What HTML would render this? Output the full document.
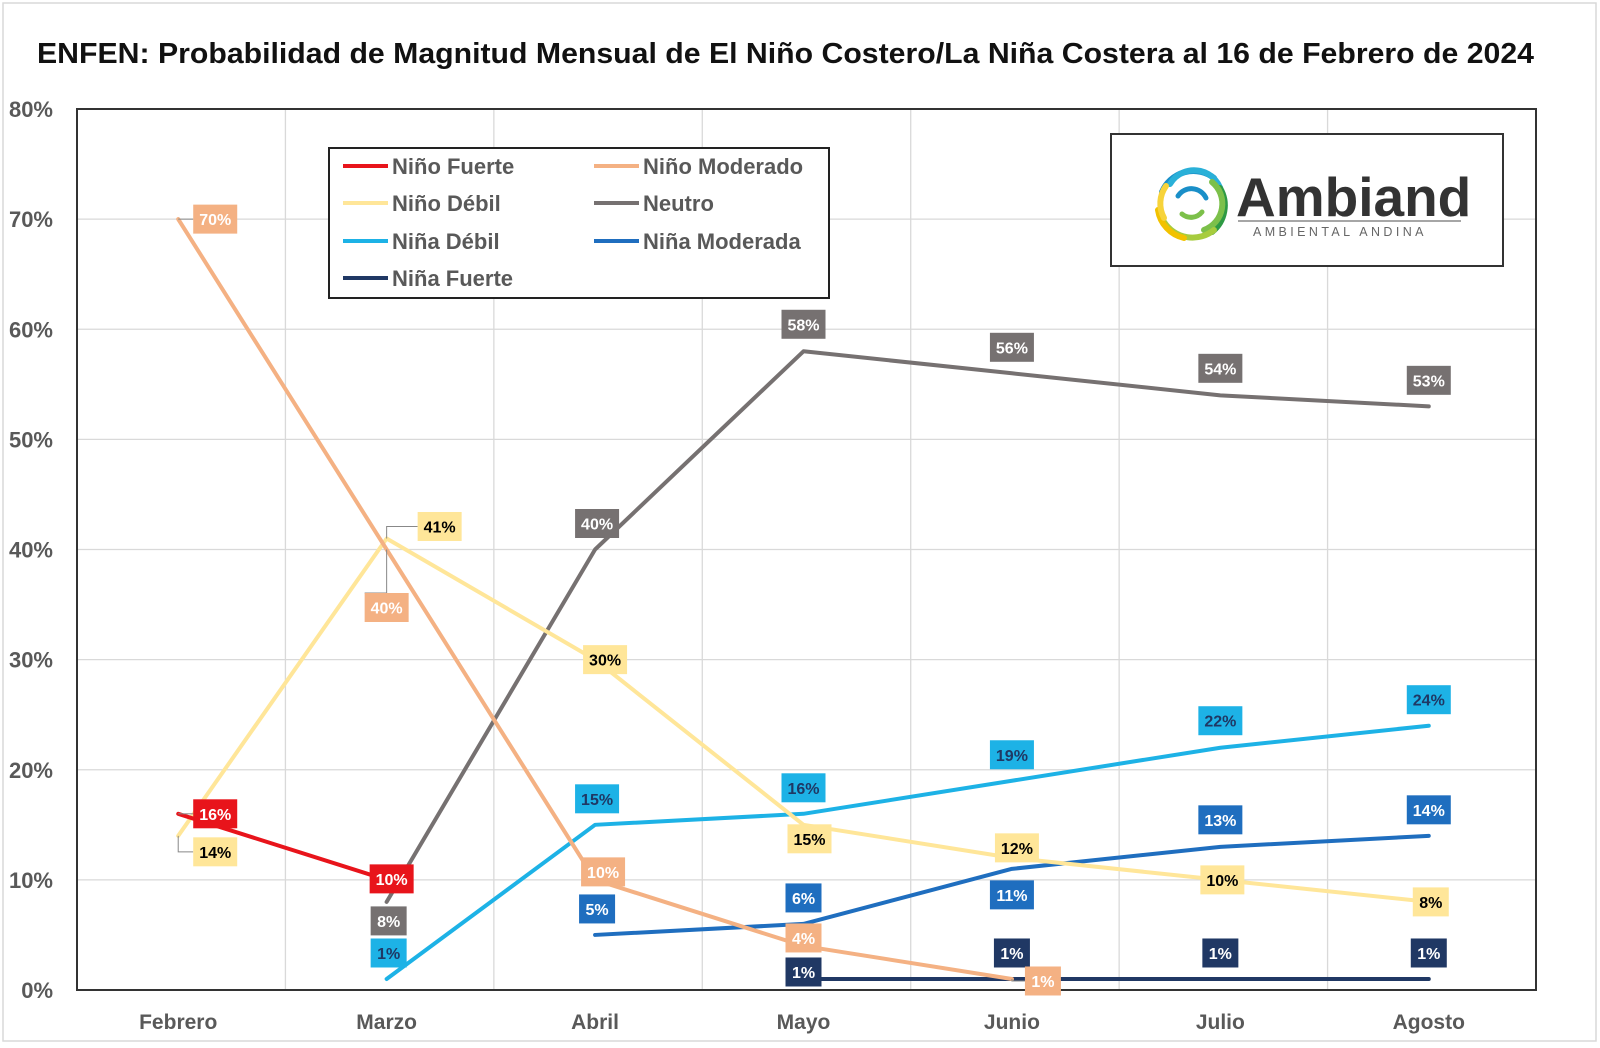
<!DOCTYPE html>
<html><head><meta charset="utf-8">
<style>
html,body{margin:0;padding:0;background:#fff;}
body{width:1600px;height:1043px;overflow:hidden;font-family:"Liberation Sans",sans-serif;}
svg text{font-family:"Liberation Sans",sans-serif;}
</style></head>
<body>
<svg id="chart" width="1600" height="1043" viewBox="0 0 1600 1043" xmlns="http://www.w3.org/2000/svg">
<rect x="3" y="3" width="1593" height="1038" fill="#fff" stroke="#d9d9d9" stroke-width="1.5"/>
<text x="37" y="63" textLength="1497" lengthAdjust="spacingAndGlyphs" font-size="29" font-weight="bold" fill="#111">ENFEN: Probabilidad de Magnitud Mensual de El Niño Costero/La Niña Costera al 16 de Febrero de 2024</text>
<g id="grid"></g>
<g id="yaxis"></g>
<g id="xaxis"></g>
<rect x="77" y="109" width="1459" height="881" fill="none" stroke="#333" stroke-width="2"/>
<g id="series"></g>
<g id="labels"></g>
<g id="legend">
<rect x="329" y="148" width="500" height="150" fill="#fff" stroke="#222" stroke-width="2"/>
</g>
<g>
<rect x="1111" y="134" width="392" height="132" fill="#fff" stroke="#333" stroke-width="2"/>
<g transform="translate(1192,204)" fill="none" stroke-linecap="round" stroke-width="6">
<path d="M-30,-12 A34,34 0 0 1 22,-26" stroke="#1a8fc8"/>
<path d="M-22,-20 A28,28 0 0 1 30,-8" stroke="#2ab0d8"/>
<path d="M28,-16 A34,34 0 0 1 20,28" stroke="#2e9a44"/>
<path d="M20,-22 A28,28 0 0 1 12,26" stroke="#7cc04a"/>
<path d="M22,26 A34,34 0 0 1 -28,18" stroke="#a7cc3e"/>
<path d="M-34,6 A34,34 0 0 0 -8,34" stroke="#f2c200"/>
<path d="M-26,-18 A30,30 0 0 0 -28,14" stroke="#f7d33a"/>
<path d="M-14,-8 A16,16 0 0 1 14,-6" stroke="#1a8fc8" stroke-width="5"/>
<path d="M10,8 A14,14 0 0 1 -10,10" stroke="#7cc04a" stroke-width="5"/>
</g>
<text x="1236" y="216" font-size="55" font-weight="bold" fill="#333">Ambiand</text>
<line x1="1238" y1="221" x2="1461" y2="221" stroke="#888" stroke-width="1.5"/>
<text x="1253" y="236" font-size="12.5" fill="#666" letter-spacing="3.4">AMBIENTAL ANDINA</text>
</g>
</svg>
<script>
const categories = ["Febrero","Marzo","Abril","Mayo","Junio","Julio","Agosto"];
const yTicks = [0,10,20,30,40,50,60,70,80];
const ninoFuerte = [16,10,null,null,null,null,null];
const ninoModerado = [70,40,10,4,1,null,null];
const ninoDebil = [14,41,30,15,12,10,8];
const neutro = [null,8,40,58,56,54,53];
const ninaDebil = [null,1,15,16,19,22,24];
const ninaModerada = [null,null,5,6,11,13,14];
const ninaFuerte = [null,null,null,1,1,1,1];

const NS="http://www.w3.org/2000/svg";
const L=77,R=1536,T=109,B=990;
const band=(R-L)/categories.length;
function x(i){return L+band*(i+0.5)-3;}
function y(v){return B-(v/80)*(B-T);}
function el(tag,attrs,parent){const e=document.createElementNS(NS,tag);for(const k in attrs)e.setAttribute(k,attrs[k]);parent.appendChild(e);return e;}

const grid=document.getElementById('grid'),ya=document.getElementById('yaxis'),xa=document.getElementById('xaxis');
yTicks.forEach(t=>{
  const g=el('line',{x1:L,x2:R,y1:y(t),y2:y(t),stroke:'#d9d9d9','stroke-width':1.3},grid);
  
  
  const tx=el('text',{x:53,y:y(t)+8,'text-anchor':'end','font-size':22,'font-weight':'bold',fill:'#595959'},ya);
  
  
  tx.textContent=t+'%';
});
categories.forEach((c,i)=>{
  if(i>0){const g=el('line',{x1:L+band*i,x2:L+band*i,y1:T,y2:B,stroke:'#d9d9d9','stroke-width':1.3},grid);
  
  }
  const tx=el('text',{x:x(i),y:1029,'text-anchor':'middle','font-size':21,'font-weight':'bold',fill:'#595959'},xa);
  
  
  tx.textContent=c;
});

const series=[
 {name:'Niña Fuerte',data:ninaFuerte,color:'#203864',box:'#203864',txt:'#fff',off:[[0,0],[0,0],[0,0],[0,-7],[0,-26],[0,-26],[0,-26]],key:'nina-fuerte'},
 {name:'Niña Moderada',data:ninaModerada,color:'#1f6ebf',box:'#1f6ebf',txt:'#fff',off:[[0,0],[0,0],[2,-26],[0,-26],[0,26],[0,-27],[0,-26]],key:'nina-moderada'},
 {name:'Niña Débil',data:ninaDebil,color:'#1db2e6',box:'#1db2e6',txt:'#1f3864',off:[[0,0],[2,-26],[2,-26],[0,-26],[0,-26],[0,-27],[0,-26]],key:'nina-debil'},
 {name:'Neutro',data:neutro,color:'#767171',box:'#767171',txt:'#fff',off:[[0,0],[2,19],[2,-26],[0,-27],[0,-26],[0,-27],[0,-26]],key:'neutro'},
 {name:'Niño Débil',data:ninoDebil,color:'#ffe699',box:'#ffe699',txt:'#000',off:[[37,16],[53,-12],[10,0],[6,14],[5,-10],[2,0],[2,0]],key:'nino-debil'},
 {name:'Niño Moderado',data:ninoModerado,color:'#f4b183',box:'#f4b183',txt:'#fff',off:[[37,0],[0,58],[8,-8],[0,-8],[31,2],[0,0],[0,0]],key:'nino-moderado'},
 {name:'Niño Fuerte',data:ninoFuerte,color:'#e8141b',box:'#e8141b',txt:'#fff',off:[[37,0],[5,-1],[0,0],[0,0],[0,0],[0,0],[0,0]],key:'nino-fuerte'}
];
const sg=document.getElementById('series'),lg=document.getElementById('labels');
series.forEach(s=>{
  let d='';s.data.forEach((v,i)=>{if(v!==null)d+=(d?'L':'M')+x(i)+','+y(v);});
  const p=el('path',{d:d,fill:'none',stroke:s.color,'stroke-width':4,'stroke-linejoin':'round','stroke-linecap':'round'},sg);
  
  
});
series.forEach(s=>{
  s.data.forEach((v,i)=>{
    if(v===null)return;
    const px=x(i),py=y(v),cx=px+s.off[i][0],cy=py+s.off[i][1];
    const txt=v+'%',w=txt.length>2?44:36,h=29;
    if(Math.abs(s.off[i][0])>30||Math.abs(s.off[i][1])>40){
      const ln=el('polyline',{points:`${px},${py} ${px} ${s.off[i][1]>40?cy-h/2:cy} ${cx-w/2},${s.off[i][1]>40?cy-h/2:cy}`,fill:'none',stroke:'#888','stroke-width':1},lg);
      
      
    }
    const r=el('rect',{x:cx-w/2,y:cy-h/2,width:w,height:h,fill:s.box},lg);
    
    
    const t=el('text',{x:cx,y:cy+6,'text-anchor':'middle','font-size':16,'font-weight':'bold',fill:s.txt},lg);
    
    
    t.textContent=txt;
  });
});
const legendItems=[['Niño Fuerte','#e8141b',343,166],['Niño Moderado','#f4b183',594,166],['Niño Débil','#ffe699',343,203],['Neutro','#767171',594,203],['Niña Débil','#1db2e6',343,241],['Niña Moderada','#1f6ebf',594,241],['Niña Fuerte','#203864',343,278]];
const lgd=document.getElementById('legend');
legendItems.forEach(it=>{
  const g=el('g',{},lgd);
  
  
  el('line',{x1:it[2],x2:it[2]+45,y1:it[3],y2:it[3],stroke:it[1],'stroke-width':4},g);
  const t=el('text',{x:it[2]+49,y:it[3]+8,'font-size':22,'font-weight':'bold',fill:'#595959'},g);
  t.textContent=it[0];
});
</script>
</body></html>
